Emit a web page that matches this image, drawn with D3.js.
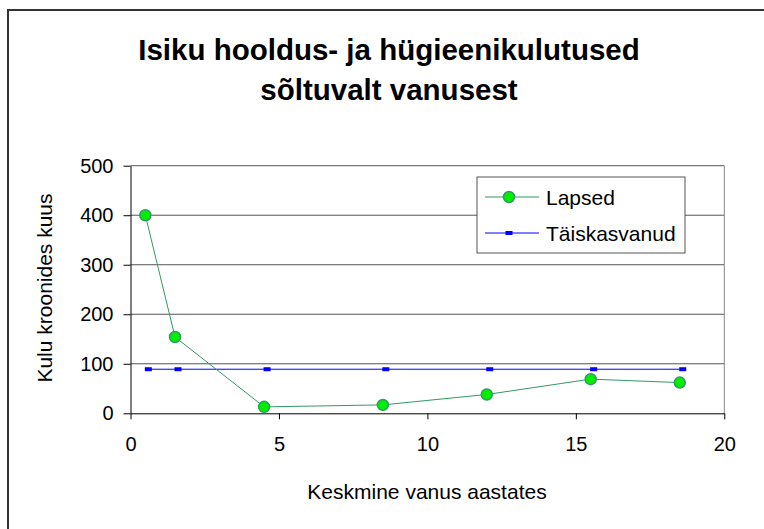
<!DOCTYPE html>
<html>
<head>
<meta charset="utf-8">
<script src="https://cdn.jsdelivr.net/npm/d3@7"></script>
<style>
  html, body { margin: 0; padding: 0; background: #fff; }
  svg { display: block; font-family: "Liberation Sans", Arial, sans-serif; }
</style>
</head>
<body>
<div id="chart"></div>
<script>
// Data
const childAges   = [0.5, 1.5, 4.5, 8.5, 12, 15.5, 18.5];
const childCosts  = [400, 154, 13, 17, 38, 69, 62];
const adultAges   = [0.6, 1.6, 4.6, 8.6, 12.1, 15.6, 18.6];
const adultCosts  = [89, 89, 89, 89, 89, 89, 89];
const xTicks = [0, 5, 10, 15, 20];
const yTicks = [0, 100, 200, 300, 400, 500];
const seriesNames = ["Lapsed", "Täiskasvanud"];

const W = 764, H = 529;
const P = { left: 130.5, right: 724.3, top: 165.7, bottom: 413.3 };

const svg = d3.select("#chart").append("svg").attr("width", W).attr("height", H);

// Outer chart frame (runs off the bottom/right like the original)
svg.append("rect").attr("x", 8).attr("y", 10).attr("width", W).attr("height", H)
  .attr("fill", "none").attr("stroke", "#333").attr("stroke-width", 2);

const x = d3.scaleLinear().domain([0, 20]).range([P.left, P.right]);
const y = d3.scaleLinear().domain([0, 500]).range([P.bottom, P.top]);

// Title
const title = svg.append("text").attr("text-anchor", "middle")
  .attr("font-weight", "bold").attr("font-size", "29.5px").attr("fill", "#000");
title.append("tspan").attr("x", 389).attr("y", 60).text("Isiku hooldus- ja hügieenikulutused");
title.append("tspan").attr("x", 389).attr("y", 100).text("sõltuvalt vanusest");

// Grid lines
svg.append("g").selectAll("line").data(yTicks.filter(d => d > 0)).join("line")
  .attr("x1", P.left).attr("x2", P.right)
  .attr("y1", d => y(d)).attr("y2", d => y(d))
  .attr("stroke", "#555").attr("stroke-width", 1);

// Right plot border
svg.append("line").attr("x1", P.right).attr("x2", P.right)
  .attr("y1", P.top).attr("y2", P.bottom).attr("stroke", "#888");

// Axes
const xAxis = svg.append("g").attr("transform", `translate(0,${P.bottom})`)
  .call(d3.axisBottom(x).tickValues(xTicks).tickSizeInner(6).tickSizeOuter(0).tickPadding(18));
const yAxis = svg.append("g").attr("transform", `translate(${P.left},0)`)
  .call(d3.axisLeft(y).tickValues(yTicks).tickSizeInner(7).tickSizeOuter(0).tickPadding(10));
[xAxis, yAxis].forEach(a => {
  a.selectAll("path,line").attr("stroke", "#000");
  a.selectAll("text").attr("font-size", "20px").attr("fill", "#000")
    .attr("font-family", "Liberation Sans, Arial, sans-serif");
});

// Axis labels
svg.append("text").attr("x", 427).attr("y", 499).attr("text-anchor", "middle")
  .attr("font-size", "21px").text("Keskmine vanus aastates");
svg.append("text").attr("transform", "rotate(-90)").attr("x", -288).attr("y", 52)
  .attr("text-anchor", "middle").attr("font-size", "21px").text("Kulu kroonides kuus");

// Series
const adults = adultAges.map((a, i) => ({ x: a, y: adultCosts[i] }));
const children = childAges.map((a, i) => ({ x: a, y: childCosts[i] }));
const line = d3.line().x(d => x(d.x)).y(d => y(d.y));

svg.append("path").datum(adults).attr("d", line)
  .attr("fill", "none").attr("stroke", "#0000ff").attr("stroke-width", 1);
svg.append("g").selectAll("rect").data(adults).join("rect")
  .attr("x", d => x(d.x) - 3.5).attr("y", d => y(d.y) - 2)
  .attr("width", 7).attr("height", 4).attr("fill", "#0000ff");

svg.append("path").datum(children).attr("d", line)
  .attr("fill", "none").attr("stroke", "#339966").attr("stroke-width", 1);
svg.append("g").selectAll("circle").data(children).join("circle")
  .attr("cx", d => x(d.x)).attr("cy", d => y(d.y)).attr("r", 5.5)
  .attr("fill", "#00ee00").attr("stroke", "#339966").attr("stroke-width", 1.5);

// Legend
const lg = svg.append("g");
lg.append("rect").attr("x", 477).attr("y", 177).attr("width", 208).attr("height", 76)
  .attr("fill", "#fff").attr("stroke", "#555").attr("stroke-width", 1);
[0, 1].forEach(i => {
  const cy = i === 0 ? 197 : 233;
  lg.append("line").attr("x1", 485).attr("x2", 539).attr("y1", cy).attr("y2", cy)
    .attr("stroke", i === 0 ? "#339966" : "#0000ff").attr("stroke-width", 1);
  if (i === 0) {
    lg.append("circle").attr("cx", 509).attr("cy", cy).attr("r", 5.5)
      .attr("fill", "#00ee00").attr("stroke", "#339966").attr("stroke-width", 1.5);
  } else {
    lg.append("rect").attr("x", 505.5).attr("y", cy - 2).attr("width", 7).attr("height", 4)
      .attr("fill", "#0000ff");
  }
  lg.append("text").attr("x", 546).attr("y", cy + 7.5).attr("font-size", "21px")
    .text(seriesNames[i]);
});
</script>
</body>
</html>
